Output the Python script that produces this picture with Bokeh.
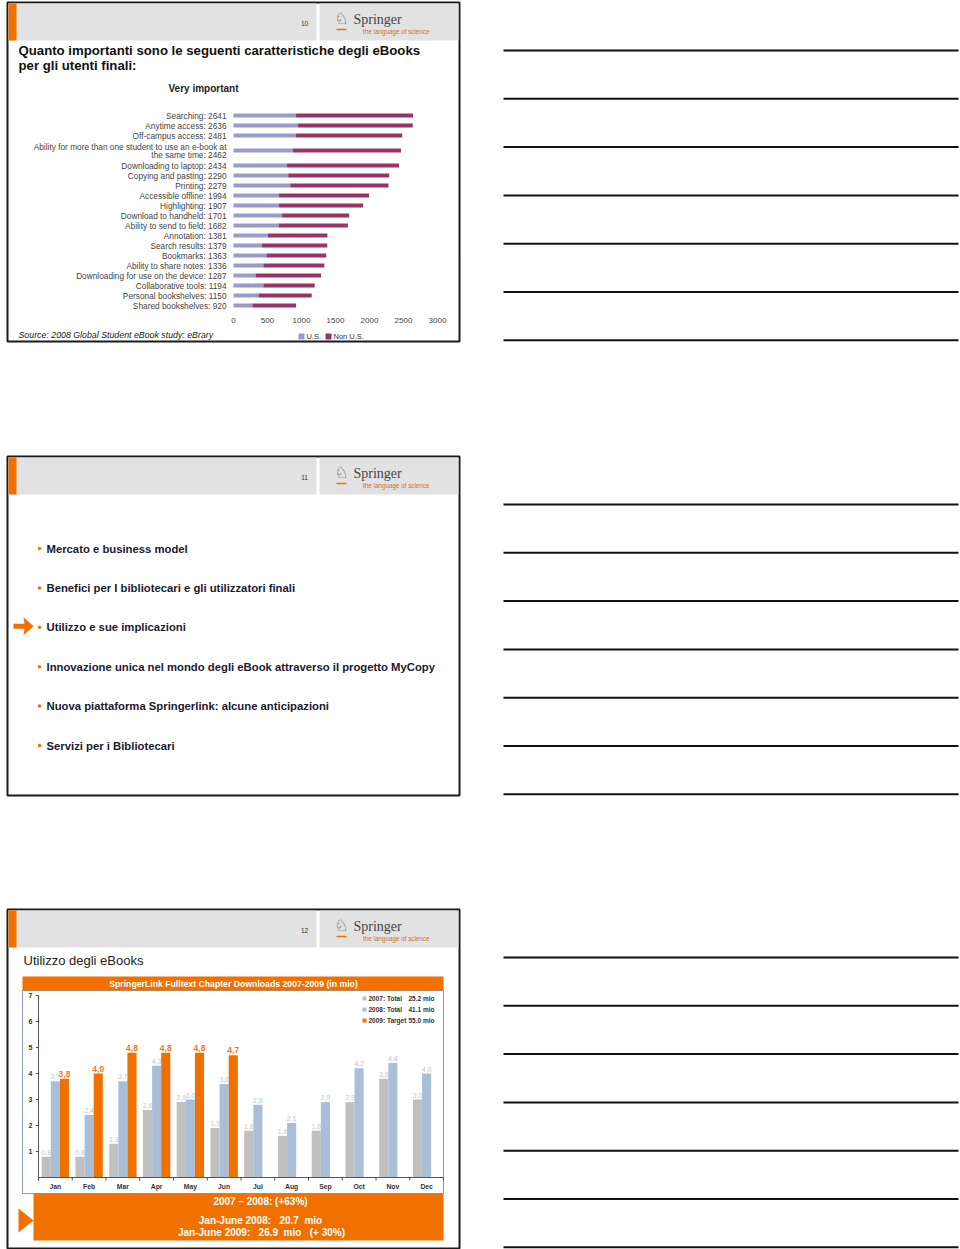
import textwrap
from bokeh.plotting import figure
from bokeh.models import Range1d
from bokeh.core.properties import value
from bokeh.embed import file_html
from bokeh.resources import INLINE

# ---------------- data ----------------
features = ["Searching", "Anytime access", "Off-campus access",
            "Ability for more than one student to use an e-book at the same time",
            "Downloading to laptop", "Copying and pasting", "Printing",
            "Accessible offline", "Highlighting", "Download to handheld",
            "Ability to send to field", "Annotation", "Search results",
            "Bookmarks", "Ability to share notes", "Downloading for use on the device",
            "Collaborative tools", "Personal bookshelves", "Shared bookshelves"]
us_votes = [920, 950, 920, 875, 785, 805, 835, 670, 670, 715, 665, 505, 420, 485, 440, 325, 440, 370, 280]
non_us_votes = [1721, 1686, 1561, 1587, 1649, 1485, 1444, 1324, 1237, 986, 1017, 876, 959, 878, 896, 962, 754, 780, 640]
vote_ticks = [0, 500, 1000, 1500, 2000, 2500, 3000]
vote_series = ["U.S.", "Non U.S."]

agenda = ["Mercato e business model",
          "Benefici per I bibliotecari e gli utilizzatori finali",
          "Utilizzo e sue implicazioni",
          "Innovazione unica nel mondo degli eBook attraverso il progetto MyCopy",
          "Nuova piattaforma Springerlink: alcune anticipazioni",
          "Servizi per i Bibliotecari"]
agenda_current = 2

months = ["Jan", "Feb", "Mar", "Apr", "May", "Jun", "Jul", "Aug", "Sep", "Oct", "Nov", "Dec"]
dl_2007 = [0.8, 0.8, 1.3, 2.6, 2.9, 1.9, 1.8, 1.6, 1.8, 2.9, 3.8, 3.0]
dl_2008 = [3.7, 2.4, 3.7, 4.3, 3.0, 3.6, 2.8, 2.1, 2.9, 4.2, 4.4, 4.0]
dl_2009 = [3.8, 4.0, 4.8, 4.8, 4.8, 4.7]
dl_ticks = [1, 2, 3, 4, 5, 6, 7]
dl_legend = [("2007: Total", "25.2 mio"), ("2008: Total", "41.1 mio"), ("2009: Target", "55.0 mio")]

# ---------------- styles ----------------
FONT = "Liberation Sans"
SERIF = "Liberation Serif"
ORANGE = "#F07000"
GRAYHDR = "#E2E2E2"
C_US, C_NON = "#9999CC", "#993366"
C07, C08, C09 = "#C0C0C0", "#A9BFD8", ORANGE
NB = "\u00a0"

W, H = 960, 1249
p = figure(width=W, height=H, x_range=Range1d(0, W), y_range=Range1d(H, 0),
           output_backend="svg", toolbar_location=None, min_border=0,
           x_axis_location=None, y_axis_location=None)
p.grid.visible = False
p.outline_line_color = None
p.background_fill_color = "white"
p.border_fill_color = "white"


def txt(g, x, y, s, size, color="#111111", style="normal", align="left",
        baseline="middle", font=FONT, **kw):
    xs = x if isinstance(x, list) else [x]
    ys = y if isinstance(y, list) else [y]
    ss = s if isinstance(s, list) else [s]
    g.text(x=xs, y=ys, text=ss, text_font=value(font), text_font_size=f"{size}px",
           text_color=color, text_font_style=style, text_align=align,
           text_baseline=baseline, **kw)


slide_tops = [2, 456, 909]
slide_nums = ["10", "11", "12"]

for top, num in zip(slide_tops, slide_nums):
    # slide frame
    p.quad(left=7, right=459, top=top, bottom=top + 339, fill_color="white",
           line_color="#1A1A1A", line_width=2)
    # header
    p.quad(left=[8, 319], right=[316, 458], top=top + 1, bottom=top + 38,
           fill_color=GRAYHDR, line_color=None)
    p.quad(left=8, right=16, top=top + 1, bottom=top + 38, fill_color=ORANGE, line_color=None)
    txt(p, 304, top + 21, num, 6.5, color="#333333", align="center")
    txt(p, 341, top + 16, "\u2658", 16, color="#555555", align="center", font="DejaVu Sans")
    p.segment(x0=336, y0=top + 27, x1=346, y1=top + 27, line_color=ORANGE, line_width=1.5)
    txt(p, 353, top + 17, "Springer", 14, color="#444444", font=SERIF)
    txt(p, 429, top + 29, "the language of science", 6.3, color="#D0702A", align="right")
    # note lines
    for k in range(7):
        y = top + 48 + 48.3 * k
        p.segment(x0=503, y0=y, x1=958, y1=y, line_color="#111111", line_width=2)

# ---------------- slide 1 ----------------
txt(p, 18, 50, "Quanto importanti sono le seguenti caratteristiche degli eBooks", 13.2, style="bold")
txt(p, 18, 65, "per gli utenti finali:", 13.2, style="bold")
txt(p, 203, 88, "Very important", 10, style="bold", align="center", color="#222222")

totals = [u + n for u, n in zip(us_votes, non_us_votes)]
labels = [f"{f}: {t}" for f, t in zip(features, totals)]
wrapped = [textwrap.wrap(lab, 55) for lab in labels]
slots = []
pos = 0.0
for i, w in enumerate(wrapped):
    if i > 0:
        pos += 1 + 0.5 * (len(wrapped[i - 1]) - 1) + 0.5 * (len(w) - 1)
    slots.append(pos)

c1 = p.subplot(x_source=Range1d(0, 3000), y_source=Range1d(0, 1),
               x_target=Range1d(233, 437), y_target=Range1d(115, 125))
c1.hbar(y=slots, left=0, right=us_votes, height=0.42, fill_color=C_US, line_color=None)
c1.hbar(y=slots, left=us_votes, right=totals, height=0.42, fill_color=C_NON, line_color=None)
lx, ly, lt = [], [], []
for s, w in zip(slots, wrapped):
    n = len(w)
    for j, line in enumerate(w):
        lx.append(0)
        ly.append(s + (j - (n - 1) / 2) * 0.8)
        lt.append(line)
txt(c1, lx, ly, lt, 8.3, color="#444444", align="right", x_offset=-7)
axis_slot = slots[-1] + 1.5
txt(c1, vote_ticks, [axis_slot] * len(vote_ticks), [str(t) for t in vote_ticks], 8,
    color="#444444", align="center")

# legend chart 1
p.quad(left=[298, 325], right=[304, 331], top=333, bottom=339, fill_color=[C_US, C_NON], line_color=None)
txt(p, [306, 333], [336, 336], vote_series, 7.5, color="#333333")
txt(p, 18, 334, "Source: 2008 Global Student eBook study: eBrary", 8.8, style="italic", color="#222222")

# ---------------- slide 2 ----------------
ag_y = [548 + 39.4 * i for i in range(len(agenda))]
p.scatter(x=[39] * len(agenda), y=ag_y, size=3.5, fill_color=ORANGE, line_color=None)
txt(p, [46] * len(agenda), ag_y, agenda, 11.3, style="bold", color="#1A1A2E")
ay = ag_y[agenda_current] - 1
p.patch(x=[13, 24, 23, 33, 23, 24, 13],
        y=[ay - 2.5, ay - 2.5, ay - 9, ay, ay + 9, ay + 2.5, ay + 2.5],
        fill_color=ORANGE, line_color=None)

# ---------------- slide 3 ----------------
txt(p, 23, 960, "Utilizzo degli eBooks", 13, color="#222222")
p.quad(left=22, right=443, top=990, bottom=1193, fill_color="white", line_color="#8A98B8", line_width=1)
p.quad(left=22, right=443, top=976, bottom=990, fill_color=ORANGE, line_color=None)
txt(p, 233, 983, "SpringerLink Fulltext Chapter Downloads 2007-2009 (in mio)", 8.7, style="bold",
    color="white", align="center")

c3 = p.subplot(x_source=Range1d(0, 12), y_source=Range1d(0, 7),
               x_target=Range1d(38, 443), y_target=Range1d(1177, 995))
xc = [i + 0.5 for i in range(len(months))]
bw = 0.27
x07 = [x - bw for x in xc]
x09 = [xc[i] + bw for i in range(len(dl_2009))]
c3.vbar(x=x07, top=dl_2007, width=bw, fill_color=C07, line_color=None)
c3.vbar(x=xc, top=dl_2008, width=bw, fill_color=C08, line_color=None)
c3.vbar(x=x09, top=dl_2009, width=bw, fill_color=C09, line_color=None)

fmt = lambda v: f"{v:.1f}".replace(".", ",")
txt(c3, x07, dl_2007, [fmt(v) for v in dl_2007], 7, color="#C4C8D0", align="center",
    baseline="bottom", y_offset=-2)
txt(c3, xc, dl_2008, [fmt(v) for v in dl_2008], 7, color="#B8C4D6", align="center",
    baseline="bottom", y_offset=-2)
txt(c3, x09, dl_2009, [fmt(v) for v in dl_2009], 8.5, style="bold", color="#EE7A14",
    align="center", baseline="bottom", y_offset=-2)

# axes of chart 3
c3.segment(x0=[0, 0], y0=[0, 0], x1=[0, 12], y1=[7, 0], line_color="#555555", line_width=1)
c3.segment(x0=[0] * len(dl_ticks), y0=dl_ticks, x1=[-0.08] * len(dl_ticks), y1=dl_ticks,
           line_color="#555555", line_width=1)
bnd = list(range(len(months) + 1))
c3.segment(x0=bnd, y0=[0] * len(bnd), x1=bnd, y1=[-0.12] * len(bnd), line_color="#555555", line_width=1)
txt(c3, [0] * len(dl_ticks), dl_ticks, [str(t) for t in dl_ticks], 7, style="bold",
    color="#333333", align="right", x_offset=-6)
txt(c3, xc, [0] * len(months), months, 6.8, style="bold", color="#333333", align="center",
    baseline="middle", y_offset=9)

# legend chart 3
leg_y = [998, 1009, 1020]
p.quad(left=[362] * 3, right=[366] * 3, top=[y - 2 for y in leg_y], bottom=[y + 2 for y in leg_y],
       fill_color=[C07, C08, C09], line_color=None)
txt(p, [368] * 3, leg_y, [a for a, b in dl_legend], 6.5, style="bold", color="#333333")
txt(p, [434] * 3, leg_y, [b for a, b in dl_legend], 6.5, style="bold", color="#333333", align="right")

# summary box
p.quad(left=33, right=443, top=1193, bottom=1240, fill_color=ORANGE, line_color=None)
p.patch(x=[18, 33, 18], y=[1208, 1220, 1232], fill_color=ORANGE, line_color=None)
txt(p, 260, 1201, "2007 \u2013 2008: (+63%)", 10, style="bold", color="white", align="center")
txt(p, 260, 1220, f"Jan-June 2008: {NB}{NB}20.7 {NB}mio", 10, style="bold", color="white", align="center")
txt(p, 261, 1232, f"Jan-June 2009: {NB}{NB}26.9 {NB}mio {NB}{NB}(+ 30%)", 10, style="bold",
    color="white", align="center")

open("out.html", "w").write(file_html(p, INLINE))
